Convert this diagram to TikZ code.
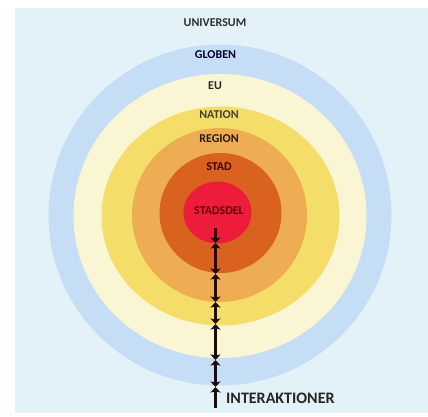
\documentclass[tikz,border=0pt]{standalone}
\usepackage{fontspec}
\setmainfont{Carlito}
\usetikzlibrary{arrows.meta}
\definecolor{bgblue}{HTML}{E3F1F9}
\definecolor{ringblue}{HTML}{C6DEF5}
\definecolor{ringcream}{HTML}{FAF6D3}
\definecolor{ringyellow}{HTML}{F4DD68}
\definecolor{ringorange}{HTML}{EEAD52}
\definecolor{ringdark}{HTML}{D9621F}
\definecolor{ringred}{HTML}{EE1C3B}
\definecolor{linecol}{HTML}{1E0C0C}
\tikzset{
  lvl/.style={font=\bfseries\fontsize{12}{14}\selectfont, inner sep=0pt},
  seg/.style={draw=linecol, line width=2.2pt},
  tip/.tip={Stealth[length=5.5pt,width=10pt,inset=1pt]},
}
\begin{document}
\begin{tikzpicture}[x=1pt,y=-1pt]
\useasboundingbox (0,0) rectangle (428,417);
\fill[white] (0,0) rectangle (428,417);
\fill[bgblue] (15,8) rectangle (428,413);
\fill[ringblue] (220,215) ellipse [x radius=171.5pt, y radius=170.5pt];
\fill[ringcream] (220,216) ellipse [x radius=146.5pt, y radius=142pt];
\fill[ringyellow] (220.5,216) ellipse [x radius=119pt, y radius=109.5pt];
\fill[ringorange] (219.5,215) ellipse [x radius=87.5pt, y radius=87pt];
\fill[ringdark] (220.5,213) ellipse [x radius=61pt, y radius=60pt];
\fill[ringred] (217.5,212.5) ellipse [x radius=34pt, y radius=31pt];

\node[lvl, text=black!82] (univ) at (215,23) {UNIVERSUM};
\node[lvl, text=black!80!blue] (glob) at (215.5,54.5) {GLOBEN};
\node[lvl, text=black!85] (eu) at (215,86) {EU};
\node[lvl, text=black!85!yellow] (nat) at (219,115) {NATION};
\node[lvl, text=black!80!brown] (reg) at (219,138.5) {REGION};
\node[lvl, text=black!75!red] (stad) at (219,167) {STAD};
\node[lvl, text=black!60!red] (sdel) at (219,210.5) {STADSDEL};

\coordinate (c0) at (215.5,228);
\coordinate (c1) at (215.5,243);
\coordinate (c2) at (215.5,274);
\coordinate (c3) at (215.5,302);
\coordinate (c4) at (215.5,324);
\coordinate (c5) at (215.5,360);
\coordinate (c6) at (215.5,387);
\coordinate (c7) at (215.5,408);
\draw[seg,-{tip}] (c0) -- (c1);
\draw[seg,{tip}-{tip}] (c1) -- (c2);
\draw[seg,{tip}-{tip}] (c2) -- (c3);
\draw[seg,{tip}-{tip}] (c3) -- (c4);
\draw[seg,{tip}-{tip}] (c4) -- (c5);
\draw[seg,{tip}-{tip}] (c5) -- (c6);
\draw[seg,{tip}-] (c6) -- (c7);

\node[anchor=west, inner sep=0pt, font=\bfseries\fontsize{16}{18}\selectfont, text=black!85] (inter) at (226,398) {INTERAKTIONER};
\end{tikzpicture}
\end{document}
